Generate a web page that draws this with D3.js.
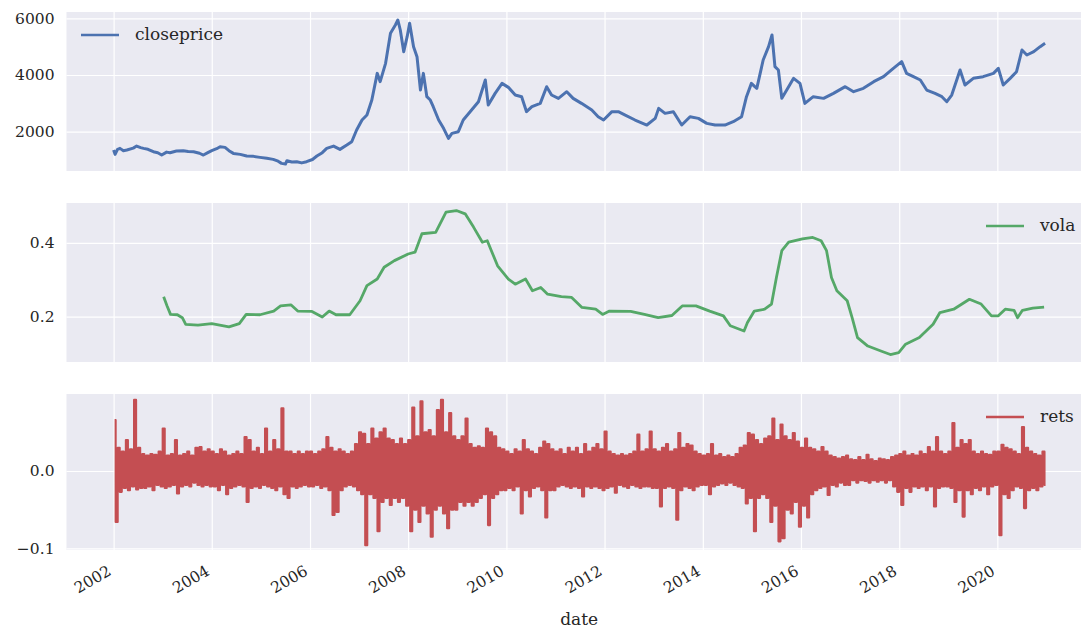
<!DOCTYPE html>
<html>
<head>
<meta charset="utf-8">
<script src="https://cdn.jsdelivr.net/npm/d3@7"></script>
<style>
  body { margin: 0; background: #fff; }
  text { font-family: "DejaVu Serif", serif; fill: #262626; }
</style>
</head>
<body>
<div id="chart"></div>
<script>
// closeprice as [decimal year, value]
var closeSeries = [
  [2002.00,1353],[2002.03,1200],[2002.08,1380],[2002.13,1412],[2002.20,1330],[2002.27,1353],[2002.40,1420],
  [2002.47,1494],[2002.55,1440],[2002.61,1412],[2002.70,1380],[2002.81,1294],[2002.90,1260],[2002.98,1177],
  [2003.08,1280],[2003.15,1259],[2003.28,1320],[2003.42,1330],[2003.52,1300],[2003.63,1294],[2003.75,1240],
  [2003.83,1177],[2003.92,1260],[2004.00,1330],[2004.10,1400],[2004.17,1471],[2004.27,1447],[2004.35,1330],
  [2004.44,1235],[2004.58,1200],[2004.71,1141],[2004.85,1130],[2004.98,1094],[2005.12,1060],[2005.25,1024],
  [2005.35,960],[2005.42,883],[2005.50,860],[2005.53,977],[2005.63,930],[2005.73,942],[2005.83,900],
  [2005.93,942],[2006.05,1020],[2006.14,1141],[2006.25,1260],[2006.34,1412],[2006.48,1494],[2006.61,1377],
  [2006.75,1530],[2006.85,1647],[2006.95,2059],[2007.06,2412],[2007.16,2588],[2007.26,3117],[2007.37,4058],
  [2007.43,3764],[2007.54,4411],[2007.64,5470],[2007.74,5764],[2007.79,5940],[2007.84,5587],[2007.91,4823],
  [2007.98,5352],[2008.03,5822],[2008.11,5000],[2008.18,4646],[2008.25,3470],[2008.31,4058],[2008.38,3235],
  [2008.45,3117],[2008.51,2882],[2008.62,2412],[2008.72,2118],[2008.82,1765],[2008.89,1941],[2009.02,2000],
  [2009.12,2412],[2009.29,2764],[2009.43,3058],[2009.57,3823],[2009.63,2941],[2009.77,3352],[2009.91,3705],
  [2010.04,3564],[2010.18,3294],[2010.31,3235],[2010.41,2706],[2010.52,2882],[2010.69,3000],[2010.82,3588],
  [2010.92,3294],[2011.06,3176],[2011.23,3411],[2011.36,3176],[2011.53,3000],[2011.74,2764],[2011.87,2529],
  [2011.98,2412],[2012.15,2706],[2012.28,2706],[2012.42,2588],[2012.62,2412],[2012.86,2235],[2013.03,2470],
  [2013.10,2823],[2013.23,2647],[2013.40,2706],[2013.57,2235],[2013.74,2529],[2013.91,2470],[2014.08,2294],
  [2014.25,2235],[2014.45,2235],[2014.62,2353],[2014.79,2529],[2014.89,3235],[2014.99,3705],[2015.06,3588],
  [2015.10,3529],[2015.23,4529],[2015.34,5000],[2015.41,5411],[2015.47,4294],[2015.54,4176],[2015.61,3176],
  [2015.71,3470],[2015.85,3882],[2015.98,3705],[2016.08,3000],[2016.25,3235],[2016.46,3176],[2016.66,3352],
  [2016.90,3588],[2017.07,3411],[2017.27,3529],[2017.48,3764],[2017.68,3941],[2017.88,4235],[2018.05,4470],
  [2018.15,4058],[2018.29,3941],[2018.43,3823],[2018.56,3470],[2018.73,3352],[2018.87,3235],[2018.97,3058],
  [2019.07,3294],[2019.24,4176],[2019.34,3647],[2019.51,3882],[2019.71,3941],[2019.92,4058],[2020.02,4235],
  [2020.12,3647],[2020.26,3882],[2020.39,4117],[2020.50,4882],[2020.60,4705],[2020.74,4823],[2020.87,5000],
  [2020.97,5117]
];

// vola (rolling volatility) as [decimal year, value]
var volaSeries = [
  [2003.02,0.254],[2003.09,0.229],[2003.16,0.206],[2003.30,0.205],[2003.40,0.197],[2003.47,0.179],
  [2003.72,0.177],[2004.00,0.181],[2004.35,0.172],[2004.56,0.181],[2004.70,0.206],[2004.98,0.205],
  [2005.26,0.215],[2005.40,0.229],[2005.61,0.232],[2005.75,0.215],[2006.04,0.214],[2006.25,0.199],
  [2006.39,0.215],[2006.53,0.205],[2006.81,0.205],[2007.02,0.243],[2007.16,0.284],[2007.37,0.302],
  [2007.51,0.334],[2007.72,0.352],[2008.00,0.370],[2008.14,0.375],[2008.28,0.425],[2008.56,0.429],
  [2008.77,0.484],[2008.98,0.488],[2009.16,0.479],[2009.33,0.443],[2009.51,0.402],[2009.61,0.406],
  [2009.82,0.338],[2010.04,0.302],[2010.18,0.288],[2010.39,0.302],[2010.53,0.270],[2010.70,0.279],
  [2010.84,0.261],[2011.12,0.254],[2011.33,0.252],[2011.54,0.225],[2011.82,0.220],[2011.96,0.206],
  [2012.10,0.215],[2012.53,0.214],[2012.81,0.206],[2013.09,0.197],[2013.37,0.203],[2013.58,0.229],
  [2013.86,0.229],[2014.14,0.215],[2014.42,0.202],[2014.56,0.175],[2014.84,0.161],[2014.91,0.184],
  [2015.05,0.215],[2015.26,0.220],[2015.40,0.234],[2015.50,0.306],[2015.61,0.379],[2015.75,0.402],
  [2016.03,0.411],[2016.24,0.415],[2016.41,0.406],[2016.52,0.379],[2016.62,0.306],[2016.73,0.270],
  [2016.94,0.243],[2017.04,0.197],[2017.15,0.143],[2017.36,0.120],[2017.64,0.106],[2017.82,0.097],
  [2017.99,0.102],[2018.13,0.125],[2018.41,0.143],[2018.69,0.179],[2018.83,0.211],[2019.11,0.220],
  [2019.43,0.247],[2019.67,0.234],[2019.88,0.202],[2020.02,0.202],[2020.16,0.220],[2020.34,0.217],
  [2020.41,0.197],[2020.51,0.217],[2020.72,0.223],[2020.95,0.226]
];

// rets: half-month highs / lows, one row of 24 per year from 2002
var retsStartYear = 2002;
var retsValues = [
  [0.066,-0.066,0.030,-0.027,0.025,-0.022,0.040,-0.025,0.028,-0.020,0.092,-0.024,0.030,-0.022,0.022,-0.022,0.020,-0.020,0.022,-0.025,0.021,-0.018,0.025,-0.020],
  [0.055,-0.022,0.020,-0.020,0.022,-0.018,0.040,-0.029,0.020,-0.020,0.022,-0.018,0.025,-0.020,0.020,-0.015,0.030,-0.018,0.031,-0.020,0.025,-0.018,0.028,-0.020],
  [0.025,-0.020,0.022,-0.025,0.028,-0.018,0.025,-0.030,0.020,-0.022,0.022,-0.020,0.025,-0.018,0.022,-0.020,0.044,-0.040,0.040,-0.022,0.025,-0.020,0.030,-0.022],
  [0.022,-0.018,0.055,-0.020,0.025,-0.022,0.040,-0.025,0.028,-0.020,0.081,-0.030,0.025,-0.035,0.025,-0.020,0.022,-0.022,0.025,-0.020,0.022,-0.018,0.025,-0.020],
  [0.025,-0.020,0.022,-0.018,0.025,-0.022,0.028,-0.020,0.044,-0.025,0.030,-0.057,0.025,-0.053,0.028,-0.025,0.025,-0.020,0.022,-0.018,0.025,-0.020,0.035,-0.025],
  [0.050,-0.030,0.048,-0.096,0.035,-0.030,0.055,-0.035,0.042,-0.078,0.050,-0.040,0.055,-0.035,0.042,-0.044,0.040,-0.035,0.035,-0.040,0.042,-0.035,0.035,-0.045],
  [0.040,-0.078,0.082,-0.050,0.045,-0.066,0.090,-0.045,0.050,-0.055,0.053,-0.085,0.045,-0.050,0.079,-0.045,0.092,-0.055,0.050,-0.074,0.075,-0.050,0.045,-0.050],
  [0.040,-0.040,0.045,-0.045,0.068,-0.040,0.035,-0.045,0.030,-0.040,0.032,-0.035,0.030,-0.030,0.055,-0.070,0.050,-0.035,0.045,-0.030,0.030,-0.025,0.028,-0.025],
  [0.025,-0.022,0.022,-0.025,0.028,-0.020,0.025,-0.055,0.040,-0.025,0.028,-0.033,0.025,-0.022,0.022,-0.020,0.030,-0.025,0.038,-0.060,0.035,-0.025,0.028,-0.025],
  [0.025,-0.020,0.028,-0.018,0.022,-0.020,0.030,-0.022,0.025,-0.020,0.030,-0.022,0.022,-0.033,0.035,-0.020,0.025,-0.022,0.030,-0.020,0.035,-0.022,0.028,-0.025],
  [0.051,-0.022,0.025,-0.020,0.022,-0.028,0.020,-0.018,0.022,-0.020,0.020,-0.022,0.022,-0.018,0.025,-0.020,0.047,-0.022,0.025,-0.020,0.028,-0.020,0.051,-0.022],
  [0.028,-0.022,0.025,-0.046,0.030,-0.022,0.035,-0.020,0.025,-0.022,0.028,-0.063,0.049,-0.025,0.030,-0.020,0.035,-0.022,0.033,-0.025,0.025,-0.020,0.022,-0.018],
  [0.020,-0.018,0.022,-0.030,0.035,-0.020,0.020,-0.018,0.022,-0.016,0.018,-0.018,0.020,-0.015,0.018,-0.018,0.022,-0.020,0.030,-0.022,0.033,-0.042,0.049,-0.035],
  [0.047,-0.078,0.040,-0.035,0.035,-0.030,0.042,-0.035,0.045,-0.066,0.068,-0.045,0.040,-0.091,0.060,-0.087,0.045,-0.050,0.040,-0.055,0.049,-0.040,0.038,-0.072],
  [0.030,-0.045,0.042,-0.060,0.030,-0.030,0.028,-0.025,0.025,-0.022,0.031,-0.020,0.025,-0.031,0.020,-0.018,0.018,-0.020,0.016,-0.015,0.018,-0.018,0.020,-0.018],
  [0.015,-0.012,0.014,-0.015,0.018,-0.012,0.014,-0.013,0.021,-0.015,0.015,-0.012,0.013,-0.014,0.016,-0.012,0.015,-0.015,0.014,-0.012,0.018,-0.020,0.020,-0.027],
  [0.022,-0.044,0.025,-0.022,0.020,-0.027,0.022,-0.020,0.020,-0.022,0.025,-0.020,0.022,-0.025,0.031,-0.020,0.025,-0.046,0.044,-0.022,0.025,-0.020,0.022,-0.020],
  [0.025,-0.022,0.062,-0.040,0.030,-0.025,0.040,-0.059,0.035,-0.025,0.040,-0.030,0.025,-0.022,0.022,-0.025,0.025,-0.020,0.022,-0.030,0.021,-0.020,0.025,-0.018],
  [0.025,-0.083,0.034,-0.030,0.030,-0.035,0.028,-0.025,0.025,-0.020,0.022,-0.022,0.057,-0.048,0.030,-0.025,0.025,-0.022,0.022,-0.025,0.020,-0.020,0.025,-0.018]
];

var closeTicks = [2000, 4000, 6000];
var volaTicks = [0.2, 0.4];
var retsTicks = [-0.1, 0.0];

var W = 1081, H = 628;

function yearToDate(y) {
  var yr = Math.floor(y);
  var a = Date.UTC(yr, 0, 1), b = Date.UTC(yr + 1, 0, 1);
  return new Date(a + (y - yr) * (b - a));
}

var retsSeries = [];
retsValues.forEach(function(row, k) {
  row.forEach(function(v, i) {
    retsSeries.push([retsStartYear + k + (i + 0.5) / 24, v]);
  });
});

var left = 66.5, right = 1091.7;
var x = d3.scaleUtc()
  .domain([yearToDate(2001.04), yearToDate(2021.92)])
  .range([left, right]);

var panels = [
  {name: "closeprice", data: closeSeries, color: "#4C72B0", top: 12, bottom: 171,
   domain: [614, 6222], ticks: closeTicks, fmt: d3.format("d"), legend: "left",
   width: 3, curve: d3.curveLinear},
  {name: "vola", data: volaSeries, color: "#55A868", top: 203, bottom: 362,
   domain: [0.0767, 0.5085], ticks: volaTicks, fmt: d3.format(".1f"), legend: "right",
   width: 2.8, curve: d3.curveLinear},
  // dense daily returns: step curve so the band reads as solid like the original
  {name: "rets", data: retsSeries, color: "#C44E52", top: 394, bottom: 550,
   domain: [-0.1022, 0.0996], ticks: retsTicks, fmt: d3.format(".1f"), legend: "right",
   width: 2.1, curve: d3.curveStep}
];

var svg = d3.select("#chart").append("svg")
  .attr("width", W).attr("height", H);

panels.forEach(function(p, idx) {
  var y = d3.scaleLinear().domain(p.domain).range([p.bottom, p.top]);
  var g = svg.append("g").attr("class", "panel");

  g.append("rect")
    .attr("x", left).attr("y", p.top)
    .attr("width", right - left).attr("height", p.bottom - p.top)
    .attr("fill", "#EAEAF2");

  // vertical grid
  var xg = g.append("g")
    .attr("transform", "translate(0," + p.bottom + ")")
    .call(d3.axisBottom(x).ticks(d3.utcYear.every(2)).tickSize(-(p.bottom - p.top)).tickFormat(""));
  xg.select(".domain").remove();
  xg.selectAll("line").attr("stroke", "#fff").attr("stroke-width", 1.2);

  // horizontal grid + labels
  var yg = g.append("g")
    .attr("transform", "translate(" + left + ",0)")
    .call(d3.axisLeft(y).tickValues(p.ticks).tickSize(-(right - left)).tickPadding(12).tickFormat(p.fmt));
  yg.select(".domain").remove();
  yg.selectAll("line").attr("stroke", "#fff").attr("stroke-width", 1.2);
  yg.selectAll("text").attr("font-size", "15.5px").attr("fill", "#262626")
    .style("font-family", '"DejaVu Serif", serif');

  svg.append("clipPath").attr("id", "clip" + idx).append("rect")
    .attr("x", left).attr("y", p.top)
    .attr("width", right - left).attr("height", p.bottom - p.top);

  var line = d3.line()
    .curve(p.curve)
    .x(function(d) { return x(yearToDate(d[0])); })
    .y(function(d) { return y(d[1]); });

  g.append("path")
    .datum(p.data)
    .attr("clip-path", "url(#clip" + idx + ")")
    .attr("d", line)
    .attr("fill", "none")
    .attr("stroke", p.color)
    .attr("stroke-width", p.width)
    .attr("stroke-linejoin", "round");

  // legend
  var ly = p.top + 23;
  var lx = p.legend === "left" ? 81 : 986;
  g.append("line")
    .attr("x1", lx).attr("x2", lx + 38)
    .attr("y1", ly).attr("y2", ly)
    .attr("stroke", p.color).attr("stroke-width", 2.6);
  g.append("text")
    .attr("x", lx + 54).attr("y", ly)
    .attr("dy", "0.32em")
    .attr("font-size", "17px")
    .text(p.name);

  if (idx === panels.length - 1) {
    var ticks = x.ticks(d3.utcYear.every(2));
    g.selectAll(".xlab")
      .data(ticks)
      .enter().append("text")
      .attr("class", "xlab")
      .attr("text-anchor", "end")
      .attr("font-size", "15.5px")
      .attr("transform", function(d) {
        return "translate(" + (x(d) - 7) + "," + (p.bottom + 14) + ") rotate(-30)";
      })
      .attr("dy", "0.75em")
      .text(function(d) { return d.getUTCFullYear(); });

    g.append("text")
      .attr("x", (left + right) / 2)
      .attr("y", 625)
      .attr("text-anchor", "middle")
      .attr("font-size", "17px")
      .text("date");
  }
});
</script>
</body>
</html>
